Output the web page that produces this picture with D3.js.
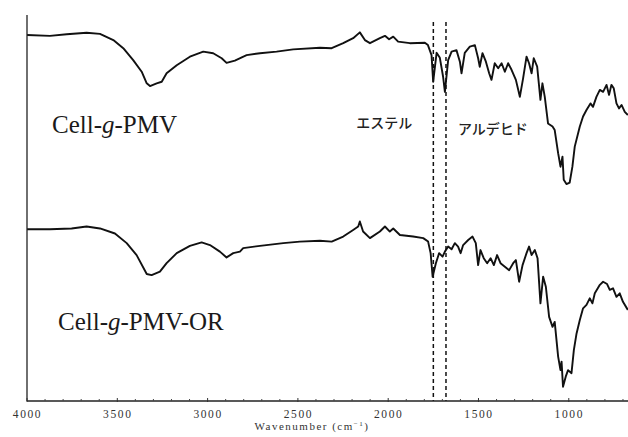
<!DOCTYPE html>
<html>
<head>
<meta charset="utf-8">
<script src="https://cdn.jsdelivr.net/npm/d3@7"></script>
<style>
  body { margin: 0; background: #fff; }
  svg { display: block; }
  .serif { font-family: "Liberation Serif", "Times New Roman", Times, "DejaVu Serif", serif; }
  .jp { font-family: "Noto Sans CJK JP", "Noto Sans", sans-serif; }
</style>
</head>
<body>
<div id="chart"></div>
<script>

// FT-IR spectra: wavenumber (cm-1) and transmittance (a.u.)
const wavenumbers_pmv = [4000,3873,3780,3670,3596,3522,3467,3412,3365,3337,3319,3282,3254,3227,3171,3098,3024,2969,2922,2895,2849,2784,2710,2618,2526,2378,2313,2249,2194,2157,2129,2101,2046,2018,1995,1972,1945,1880,1797,1780,1760,1751,1732,1714,1696,1686,1668,1649,1622,1603,1594,1576,1548,1520,1502,1493,1478,1459,1441,1428,1410,1391,1372,1354,1336,1317,1293,1271,1253,1234,1220,1206,1194,1175,1157,1146,1133,1115,1090,1078,1059,1046,1035,1028,1013,995,980,967,939,921,902,880,866,847,828,810,791,777,764,751,736,722,708,690,673];
const transmittance_pmv = [94.8,94.6,95.0,95.4,95.1,93.5,91.4,88.3,85.3,82.3,81.6,82.3,82.7,84.9,87.0,89.2,90.5,90.1,88.8,87.6,88.2,89.6,90.1,90.5,91.1,91.5,91.4,92.7,94.0,95.5,93.5,92.7,94.0,94.6,93.7,94.4,93.1,92.7,92.8,92.2,89.6,82.7,90.2,88.9,84.0,80.1,88.3,90.5,90.9,87.9,84.9,90.2,91.8,92.2,88.8,86.6,90.1,87.9,84.9,83.2,87.5,86.2,87.5,85.3,87.5,85.8,83.2,78.8,83.6,89.2,87.5,84.9,88.8,86.6,78.0,82.3,78.8,71.9,71.1,70.2,64.2,60.7,63.3,57.3,56.2,56.6,60.7,65.9,71.1,73.7,75.4,77.1,76.2,78.8,80.6,80.1,81.9,79.3,81.9,81.0,77.1,75.8,76.7,74.9,74.1];

const wavenumbers_or = [4000,3873,3753,3670,3596,3513,3448,3393,3337,3310,3264,3227,3171,3098,3033,2987,2932,2895,2858,2821,2803,2710,2581,2489,2378,2313,2249,2194,2166,2157,2139,2101,2046,2018,1991,1972,1935,1862,1806,1779,1765,1754,1736,1718,1699,1686,1668,1649,1631,1613,1599,1585,1557,1533,1515,1502,1489,1471,1452,1433,1415,1397,1378,1354,1330,1308,1293,1275,1256,1234,1220,1206,1188,1173,1157,1142,1127,1109,1090,1078,1059,1046,1040,1032,1017,1004,985,972,957,939,921,902,884,869,856,828,810,788,773,755,736,718,700,673];
const transmittance_or = [44.5,44.5,44.7,45.2,44.7,43.4,40.9,37.8,32.9,32.6,33.5,35.7,38.3,40.2,41.1,40.4,38.7,37.2,38.3,38.7,39.6,40.2,40.9,41.3,41.5,41.3,42.6,44.3,45.2,46.5,43.9,42.2,43.9,45.2,43.9,44.7,43.0,42.6,42.2,41.3,38.3,32.2,35.7,38.3,37.4,38.7,40.0,39.3,40.9,40.0,38.3,40.4,41.7,42.6,40.9,35.2,39.1,37.0,35.7,37.0,35.2,37.8,35.7,34.8,33.9,35.7,36.5,30.9,35.2,38.3,40.0,37.8,39.1,37.0,25.3,32.2,29.6,21.8,19.2,20.5,11.5,8.0,10.2,3.7,6.3,8.0,7.2,13.2,17.5,21.0,24.0,24.9,26.6,25.3,27.9,30.1,30.9,30.3,28.8,29.2,27.0,27.9,25.7,23.6];

const seriesNames = ["Cell-g-PMV", "Cell-g-PMV-OR"];
const markerLines = [1750, 1680];            // dashed guide lines
const markerNames = ["エステル", "アルデヒド"];
const xTicks = [4000, 3500, 3000, 2500, 2000, 1500, 1000];

const series = [
	{ name: seriesNames[0], x: wavenumbers_pmv, y: transmittance_pmv },
	{ name: seriesNames[1], x: wavenumbers_or,  y: transmittance_or }
];

const svgWidth = 628, svgHeight = 437;
const plot = { left: 27, right: 632, top: 15, bottom: 401 };

const scales = {
	x: d3.scaleLinear().domain([4000, 650]).range([plot.left, plot.right]),
	y: d3.scaleLinear().domain([0, 100]).range([plot.bottom, plot.top])
};

const line = d3.line()
	.x( d => scales.x( d[0] ) )
	.y( d => scales.y( d[1] ) );

const svg = d3.select("#chart").append("svg")
	.attr("width", svgWidth)
	.attr("height", svgHeight)
	.style("background", "#fff");

svg.append("clipPath").attr("id", "clip")
	.append("rect")
		.attr("x", plot.left).attr("y", 0)
		.attr("width", svgWidth - plot.left).attr("height", plot.bottom);

// SPECTRA
const gLines = svg.append("g").attr("clip-path", "url(#clip)");
gLines.selectAll("path.spectrum")
	.data(series)
	.enter()
	.append("path")
		.attr("class", "spectrum")
		.attr("fill", "none")
		.attr("stroke", "#111")
		.attr("stroke-width", 1.9)
		.attr("stroke-linejoin", "round")
		.attr("d", s => line( d3.zip(s.x, s.y) ));

// dashed guides for the carbonyl bands
svg.selectAll("line.marker")
	.data(markerLines)
	.enter()
	.append("line")
		.attr("class", "marker")
		.attr("x1", d => scales.x(d)).attr("x2", d => scales.x(d))
		.attr("y1", 22).attr("y2", plot.bottom)
		.attr("stroke", "#111")
		.attr("stroke-width", 1.5)
		.attr("stroke-dasharray", "4,3");

svg.selectAll("text.marker-label")
	.data(markerNames)
	.enter()
	.append("text")
		.attr("class", "marker-label jp")
		.attr("x", (d, i) => i == 0 ? scales.x(markerLines[0]) - 21 : scales.x(markerLines[1]) + 12)
		.attr("y", (d, i) => i == 0 ? 128 : 134)
		.attr("text-anchor", (d, i) => i == 0 ? "end" : "start")
		.attr("font-size", 14)
		.attr("font-weight", 500)
		.attr("fill", "#222")
		.text(d => d);

// series labels, "g" in italics
const labelPos = [ [52, 133], [58, 330] ];
series.forEach( (s, i) => {
	const parts = s.name.split("-g-");
	const t = svg.append("text")
		.attr("class", "serif")
		.attr("x", labelPos[i][0])
		.attr("y", labelPos[i][1])
		.attr("font-size", 25)
		.attr("fill", "#1a1a1a");
	t.append("tspan").text(parts[0] + "-");
	t.append("tspan").attr("font-style", "italic").text("g");
	t.append("tspan").text("-" + parts[1]);
});

// AXES
svg.append("line")
	.attr("x1", plot.left).attr("x2", plot.left)
	.attr("y1", plot.top).attr("y2", plot.bottom)
	.attr("stroke", "#222").attr("stroke-width", 1.3);

const xAxis = d3.axisBottom(scales.x)
	.tickValues(xTicks)
	.tickSize(0)
	.tickPadding(9)
	.tickFormat(d3.format("d"));

const gX = svg.append("g")
	.attr("transform", `translate(0,${plot.bottom})`)
	.call(xAxis);

gX.attr("font-family", null);

gX.select(".domain")
	.attr("d", `M${plot.left},0H${svgWidth}`)
	.attr("stroke", "#222").attr("stroke-width", 1.3);

gX.selectAll(".tick text")
	.attr("class", "serif")
	.attr("font-size", 11.5)
	.attr("letter-spacing", 1.6)
	.attr("fill", "#333");

// small inward ticks, major every 500 and minor every 100
const minor = d3.range(3900, 650, -100).filter(d => d % 500 != 0);
gX.selectAll("line.minor")
	.data(minor)
	.enter()
	.append("line")
		.attr("class", "minor")
		.attr("x1", d => scales.x(d)).attr("x2", d => scales.x(d))
		.attr("y1", 0).attr("y2", -2)
		.attr("stroke", "#444");
gX.selectAll("line.major")
	.data(xTicks)
	.enter()
	.append("line")
		.attr("class", "major")
		.attr("x1", d => scales.x(d)).attr("x2", d => scales.x(d))
		.attr("y1", 1).attr("y2", -3)
		.attr("stroke", "#333");

const title = svg.append("text")
	.attr("class", "serif")
	.attr("x", 312)
	.attr("y", 430)
	.attr("text-anchor", "middle")
	.attr("font-size", 11)
	.attr("letter-spacing", 1.5)
	.attr("fill", "#333");
title.append("tspan").text("Wavenumber (cm");
title.append("tspan").attr("font-size", 7).attr("dy", -4).text("−1");
title.append("tspan").attr("dy", 4).text(")");

</script>
</body>
</html>
